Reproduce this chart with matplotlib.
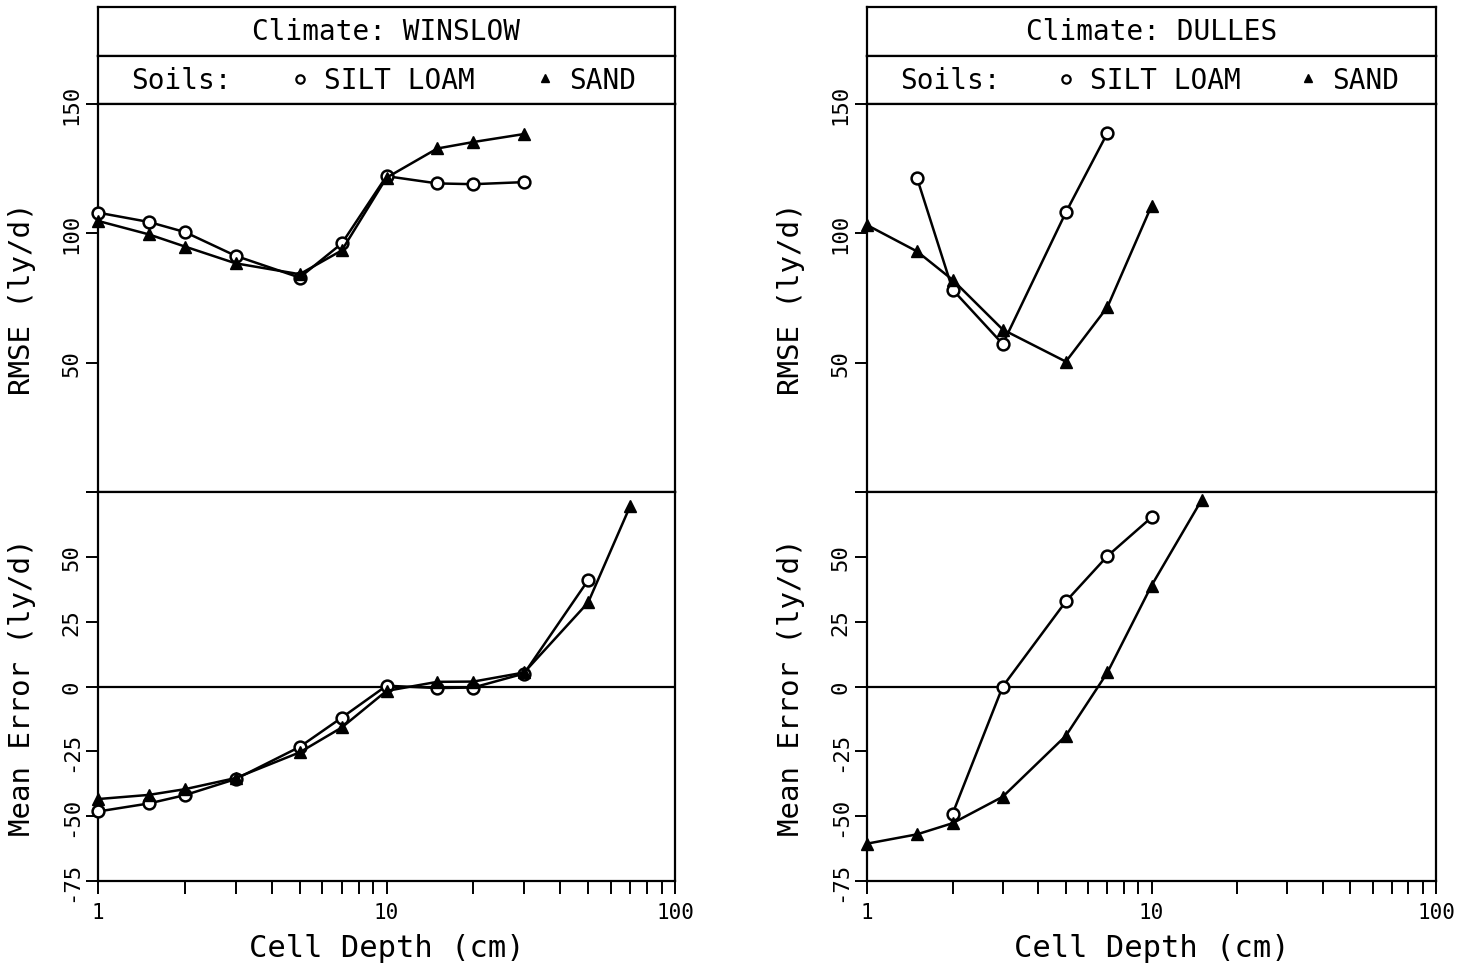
import matplotlib
matplotlib.use("Agg")
import matplotlib.pyplot as plt
from matplotlib.ticker import LogLocator, FixedLocator, NullFormatter, FixedFormatter

# ---- data -------------------------------------------------------------
climates = ["WINSLOW", "DULLES"]
soil_names = ["SILT LOAM", "SAND"]

# Winslow
ws_silt_rmse_depth = [1, 1.5, 2, 3, 5, 7, 10, 15, 20, 30]
ws_silt_rmse = [108.0, 104.4, 100.5, 91.3, 82.9, 96.1, 122.1, 119.3, 119.0, 119.8]
ws_sand_rmse_depth = [1, 1.5, 2, 3, 5, 7, 10, 15, 20, 30]
ws_sand_rmse = [104.8, 99.6, 94.9, 88.4, 84.2, 93.4, 121.5, 132.8, 135.3, 138.4]
ws_silt_me_depth = [1, 1.5, 2, 3, 5, 7, 10, 15, 20, 30, 50]
ws_silt_me = [-48.2, -45.1, -41.9, -35.7, -23.3, -12.0, 0.3, -0.6, -0.4, 5.0, 41.0]
ws_sand_me_depth = [1, 1.5, 2, 3, 5, 7, 10, 15, 20, 30, 50, 70]
ws_sand_me = [-43.4, -41.8, -39.6, -35.3, -25.4, -15.8, -1.7, 1.8, 1.9, 5.4, 32.4, 69.7]

# Dulles
du_silt_rmse_depth = [1.5, 2, 3, 5, 7]
du_silt_rmse = [121.3, 78.2, 57.2, 108.1, 138.8]
du_sand_rmse_depth = [1, 1.5, 2, 3, 5, 7, 10]
du_sand_rmse = [103.2, 93.0, 82.0, 62.8, 50.4, 71.5, 110.6]
du_silt_me_depth = [2, 3, 5, 7, 10]
du_silt_me = [-49.0, 0.0, 32.8, 50.3, 65.2]
du_sand_me_depth = [1, 1.5, 2, 3, 5, 7, 10, 15]
du_sand_me = [-60.6, -57.0, -52.7, -42.5, -19.0, 5.4, 38.9, 71.9]

rmse_ticks = [0, 50, 100, 150]
rmse_ticklabels = ["", "50", "100", "150"]
me_ticks = [-75, -50, -25, 0, 25, 50, 75]
me_ticklabels = ["-75", "-50", "-25", "0", "25", "50", ""]
x_ticks = [1, 10, 100]
x_ticklabels = ["1", "10", "100"]

# ---- styling ----------------------------------------------------------
FONT = "DejaVu Sans Mono"
plt.rcParams["font.family"] = [FONT, "DejaVu Sans"]
LW = 1.6
W, H = 1463, 970

fig = plt.figure(figsize=(W / 100, H / 100), dpi=100)
fig.patch.set_facecolor("white")


def rect(x0, x1, ytop, ybot):
    return [x0 / W, 1 - ybot / H, (x1 - x0) / W, (ybot - ytop) / H]


def style_box(ax):
    ax.set_xticks([])
    ax.set_yticks([])
    for s in ax.spines.values():
        s.set_linewidth(LW)


def style_data_axes(ax):
    for s in ax.spines.values():
        s.set_linewidth(LW)
    ax.tick_params(axis="both", which="both", direction="out",
                   length=9, width=1.4, color="black")
    ax.tick_params(axis="y", labelsize=16, pad=3)
    for lab in ax.get_yticklabels():
        lab.set_rotation(90)
        lab.set_va("center")


def plot_series(ax, xs, ys, marker):
    if marker == "o":
        ax.plot(xs, ys, "-", color="black", lw=1.8, marker="o", ms=8.5,
                mfc="white", mec="black", mew=1.8, clip_on=False, zorder=3)
    else:
        ax.plot(xs, ys, "-", color="black", lw=1.8, marker="^", ms=8,
                mfc="black", mec="black", clip_on=False, zorder=3)


panels = [
    (98, 675, "WINSLOW",
     (ws_silt_rmse_depth, ws_silt_rmse), (ws_sand_rmse_depth, ws_sand_rmse),
     (ws_silt_me_depth, ws_silt_me), (ws_sand_me_depth, ws_sand_me)),
    (867, 1436, "DULLES",
     (du_silt_rmse_depth, du_silt_rmse), (du_sand_rmse_depth, du_sand_rmse),
     (du_silt_me_depth, du_silt_me), (du_sand_me_depth, du_sand_me)),
]

for x0, x1, name, s_rmse, d_rmse, s_me, d_me in panels:
    width = x1 - x0
    label_x = -62.0 / width

    # title box
    ax_t = fig.add_axes(rect(x0, x1, 8, 57))
    style_box(ax_t)
    ax_t.text(0.5, 0.5, f"Climate: {name}", transform=ax_t.transAxes,
              ha="center", va="center", fontsize=20)

    # legend box
    ax_l = fig.add_axes(rect(x0, x1, 57, 105))
    style_box(ax_l)
    ax_l.set_xlim(0, 1)
    ax_l.set_ylim(0, 1)
    ax_l.text(0.058, 0.5, "Soils:", ha="left", va="center", fontsize=20)
    ax_l.plot([0.35], [0.52], marker="o", ms=6, mfc="white", mec="black", mew=1.6)
    ax_l.text(0.392, 0.5, soil_names[0], ha="left", va="center", fontsize=20)
    ax_l.plot([0.775], [0.54], marker="^", ms=6, mfc="black", mec="black")
    ax_l.text(0.817, 0.5, soil_names[1], ha="left", va="center", fontsize=20)

    # RMSE panel
    ax_r = fig.add_axes(rect(x0, x1, 105, 493))
    ax_r.set_xscale("log")
    ax_r.set_xlim(1, 100)
    ax_r.set_ylim(0, 150)
    ax_r.xaxis.set_major_locator(FixedLocator([]))
    ax_r.xaxis.set_minor_locator(FixedLocator([]))
    ax_r.yaxis.set_major_locator(FixedLocator(rmse_ticks))
    ax_r.yaxis.set_major_formatter(FixedFormatter(rmse_ticklabels))
    style_data_axes(ax_r)
    ax_r.set_ylabel("RMSE (ly/d)", fontsize=21)
    ax_r.yaxis.set_label_coords(label_x, 0.5)
    plot_series(ax_r, *s_rmse, "o")
    plot_series(ax_r, *d_rmse, "^")

    # Mean error panel
    ax_m = fig.add_axes(rect(x0, x1, 493, 882))
    ax_m.set_xscale("log")
    ax_m.set_xlim(1, 100)
    ax_m.set_ylim(-75, 75)
    ax_m.xaxis.set_major_locator(FixedLocator(x_ticks))
    ax_m.xaxis.set_major_formatter(FixedFormatter(x_ticklabels))
    ax_m.xaxis.set_minor_locator(LogLocator(base=10, subs=range(2, 10)))
    ax_m.xaxis.set_minor_formatter(NullFormatter())
    ax_m.yaxis.set_major_locator(FixedLocator(me_ticks))
    ax_m.yaxis.set_major_formatter(FixedFormatter(me_ticklabels))
    style_data_axes(ax_m)
    ax_m.tick_params(axis="x", which="both", top=False, labelsize=15, pad=6)
    ax_m.axhline(0, color="black", lw=LW, zorder=2)
    ax_m.set_ylabel("Mean Error (ly/d)", fontsize=21)
    ax_m.yaxis.set_label_coords(label_x, 0.5)
    ax_m.set_xlabel("Cell Depth (cm)", fontsize=22, labelpad=8)
    plot_series(ax_m, *s_me, "o")
    plot_series(ax_m, *d_me, "^")

fig.savefig("out.png", dpi=100, facecolor="white")
